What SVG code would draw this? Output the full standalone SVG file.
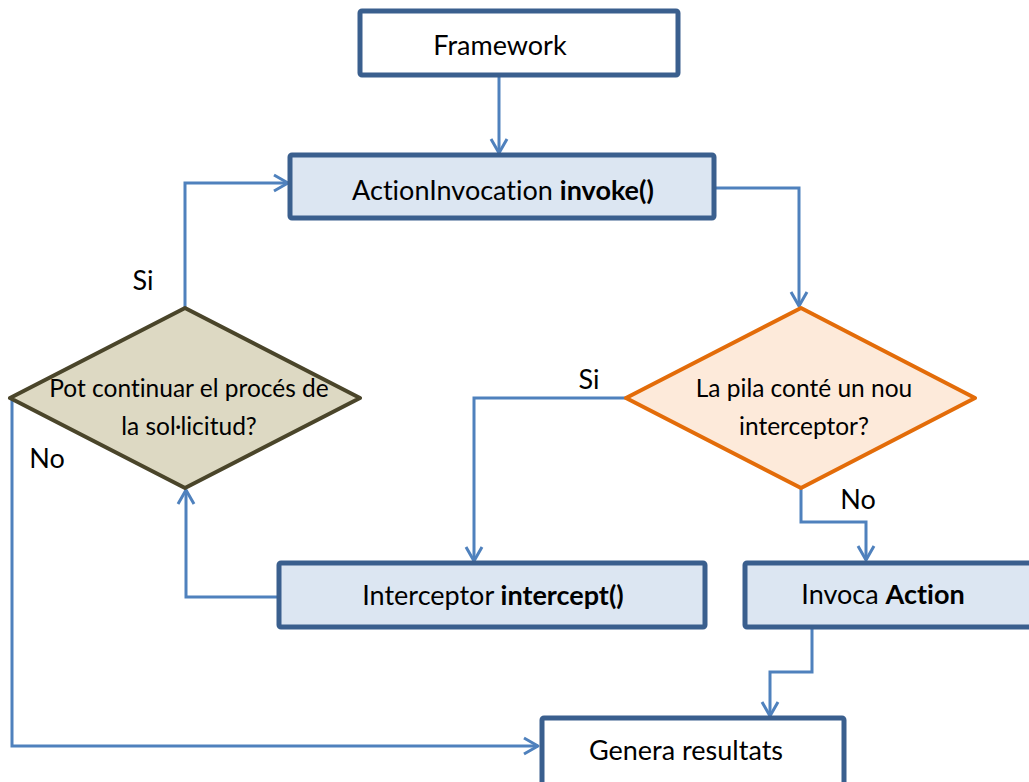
<svg xmlns="http://www.w3.org/2000/svg" width="1029" height="782" viewBox="0 0 1029 782">
  <style>
    .box { stroke: #3A5F8E; stroke-width: 5; stroke-linejoin: round; }
    .plain { fill: #FFFFFF; }
    .blue { fill: #DCE6F2; }
    .label { font-family: Lato, "Open Sans", sans-serif; font-size: 27px; fill: #000000; font-variant-ligatures: none; }
    .small { font-size: 24.5px; }
    .mid { text-anchor: middle; }
    .b { font-weight: bold; }
    .link { fill: none; stroke: #4F81BD; stroke-width: 3; }
  </style>
  <defs>
    <marker id="arrow" markerUnits="userSpaceOnUse" markerWidth="20" markerHeight="20" viewBox="0 0 20 20" refX="16" refY="10" orient="auto">
      <path d="M2,2 L16,10 L2,18" fill="none" stroke="#4F81BD" stroke-width="3" stroke-linejoin="round"/>
    </marker>
  </defs>

  <rect width="1029" height="782" fill="#FFFFFF"/>

  <!-- connectors -->
  <g id="connectors">
    <path class="link" d="M499,76 L499,153" marker-end="url(#arrow)"/>
    <path class="link" d="M714,188 L799,188 L799,306" marker-end="url(#arrow)"/>
    <path class="link" d="M626,398 L474,398 L474,561" marker-end="url(#arrow)"/>
    <path class="link" d="M801,488 L801,522 L866,522 L866,560" marker-end="url(#arrow)"/>
    <path class="link" d="M278,597 L186,597 L186,490" marker-end="url(#arrow)"/>
    <path class="link" d="M185,308 L185,183 L288,183" marker-end="url(#arrow)"/>
    <path class="link" d="M12,398 L12,746 L538,746" marker-end="url(#arrow)"/>
    <path class="link" d="M812,628 L812,672 L770,672 L770,716" marker-end="url(#arrow)"/>
    <text class="label mid" x="143" y="290">Si</text>
    <text class="label mid" x="47" y="468">No</text>
    <text class="label mid" x="589" y="389">Si</text>
    <text class="label mid" x="858" y="509">No</text>
  </g>

  <g id="framework">
    <rect class="box plain" x="360" y="11" width="318" height="64" rx="2"/>
    <text class="label mid" x="500" y="55">Framework</text>
  </g>

  <g id="action-invocation">
    <rect class="box blue" x="290" y="155" width="424" height="63" rx="2"/>
    <text class="label mid" x="503" y="200">ActionInvocation <tspan class="b">invoke()</tspan></text>
  </g>

  <g id="decision-interceptor">
    <polygon points="801,308 975,398 801,488 626,398" fill="#FDEADA" stroke="#E36C09" stroke-width="4" stroke-linejoin="round"/>
    <text class="label small mid" x="804" y="397">La pila conté un nou</text>
    <text class="label small mid" x="804" y="435">interceptor?</text>
  </g>

  <g id="decision-continue">
    <polygon points="185,308 360,398 185,488 10,398" fill="#DDD9C3" stroke="#4A452A" stroke-width="4" stroke-linejoin="round"/>
    <text class="label small mid" x="189" y="397">Pot continuar el procés de</text>
    <text class="label small mid" x="189" y="435">la sol·licitud?</text>
  </g>

  <g id="interceptor">
    <rect class="box blue" x="279" y="563" width="426" height="64" rx="2"/>
    <text class="label mid" x="493" y="605">Interceptor <tspan class="b">intercept()</tspan></text>
  </g>

  <g id="invoca-action">
    <rect class="box blue" x="745" y="563" width="300" height="64" rx="2"/>
    <text class="label mid" x="883" y="604">Invoca <tspan class="b">Action</tspan></text>
  </g>

  <g id="genera-resultats">
    <rect class="box plain" x="542" y="718" width="302" height="80" rx="2"/>
    <text class="label mid" x="686" y="760">Genera resultats</text>
  </g>
</svg>
